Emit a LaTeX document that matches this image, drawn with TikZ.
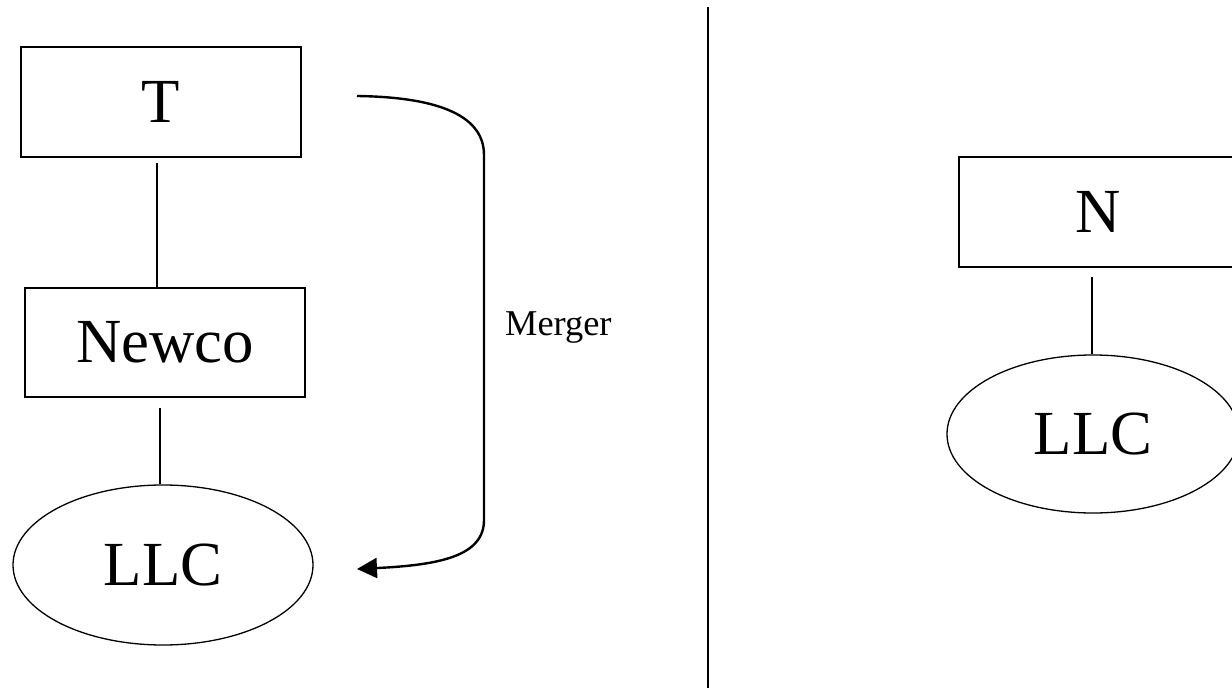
\documentclass[tikz,border=0pt]{standalone}
\usepackage{fontspec}
\setmainfont{Liberation Serif}
\usetikzlibrary{shapes.geometric,arrows.meta}
\begin{document}
\begin{tikzpicture}[x=1bp,y=-1bp,
  box/.style={draw,line width=1.5bp,rectangle,inner sep=0pt,font=\fontsize{63}{70}\selectfont},
  oval/.style={draw,line width=1.3bp,ellipse,inner sep=0pt,font=\fontsize{63}{70}\selectfont},
  link/.style={line width=1.2bp},
  lbl/.style={font=\fontsize{36.5}{40}\selectfont,inner sep=0pt}]
\useasboundingbox (0,0) rectangle (1232,688);
\clip (0,0) rectangle (1232,688);
% left side
\node[box,minimum width=280bp,minimum height=110bp] (T) at (161,102) {T};
\node[box,minimum width=280bp,minimum height=109bp] (Newco) at (165,342.5) {Newco};
\node[oval,minimum width=300bp,minimum height=160bp] (LLC1) at (163,565) {LLC};
\draw[link,shorten <=5bp] (T.south -| 157,0) -- (Newco.north -| 157,0);
\draw[link,shorten <=10bp] (Newco.south -| 160,0) -- (LLC1.north -| 160,0);
% merger arrow
\coordinate (ms) at (357,96);
\coordinate (me) at (357,569);
\draw[line width=2.4bp,-{Triangle[length=20bp,width=20bp]}]
  (ms) .. controls (430,97) and (484,112) .. (484,155) -- (484,520)
  .. controls (484,556) and (440,565) .. (me);
\node[lbl,anchor=base west] (merger) at (505,335) {Merger};
% divider
\coordinate (d1) at (708,7);
\coordinate (d2) at (708,688);
\draw[line width=2bp] (d1) -- (d2);
% right side
\node[box,minimum width=278bp,minimum height=110bp] (N) at (1098,212) {N};
\node[oval,minimum width=292bp,minimum height=158bp] (LLC2) at (1093,434) {LLC};
\draw[link,shorten <=9bp] (N.south -| 1092,0) -- (LLC2.north -| 1092,0);
\end{tikzpicture}
\end{document}
